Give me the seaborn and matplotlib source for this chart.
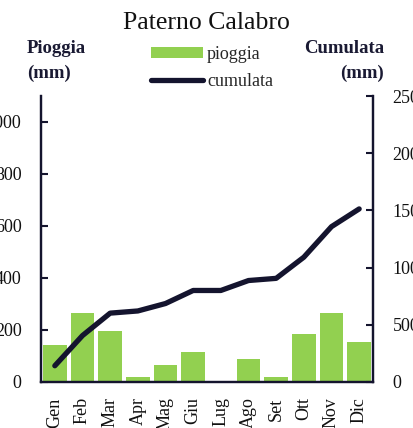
import numpy as np
import pandas as pd
import matplotlib
matplotlib.use("Agg")
import matplotlib.pyplot as plt
import seaborn as sns
from matplotlib.patches import Patch
from matplotlib.lines import Line2D

months = ["Gen", "Feb", "Mar", "Apr", "Mag", "Giu", "Lug", "Ago", "Set", "Ott", "Nov", "Dic"]
pioggia = [142, 264, 196, 19, 65, 114, 0, 87, 19, 185, 267, 155]
cumulata = [142, 406, 602, 621, 686, 800, 800, 887, 906, 1091, 1358, 1513]
left_ticks = [0, 200, 400, 600, 800, 1000]
right_ticks = [0, 500, 1000, 1500, 2000, 2500]

GREEN = "#92d050"
NAVY = "#14142e"
FONT = ["Liberation Serif", "DejaVu Serif"]

sns.set_theme(style="white")
plt.rcParams["font.family"] = FONT

df = pd.DataFrame({"mese": months, "pioggia": pioggia, "cumulata": cumulata})

fig = plt.figure(figsize=(4.13, 4.28), dpi=100)
ax = fig.add_axes([41/413, 46/428, 332/413, 286/428])
sns.barplot(data=df, x="mese", y="pioggia", color=GREEN, saturation=1, width=0.86,
            edgecolor="none", ax=ax)
ax.set_xlim(-0.5, 11.5)
ax.set_ylim(0, 1100)
ax.set_yticks(left_ticks)
ax.set_xlabel("")
ax.set_ylabel("")

ax2 = ax.twinx()
sns.lineplot(x=np.arange(len(months)), y=df["cumulata"], color=NAVY, lw=3.8,
             solid_capstyle="round", ax=ax2)
ax2.set_ylim(0, 2500)
ax2.set_yticks(right_ticks)
ax2.set_ylabel("")

for a in (ax, ax2):
    a.spines["top"].set_visible(False)
    for s in ("left", "right", "bottom"):
        a.spines[s].set_color(NAVY)
        a.spines[s].set_linewidth(1.6)
    a.grid(False)

ax.tick_params(axis="y", direction="in", length=5, width=1.5, color=NAVY, pad=14,
               labelsize=13, labelcolor="#111111")
ax.tick_params(axis="x", length=0, pad=11, labelsize=13, labelcolor="#111111")
ax2.tick_params(axis="y", direction="in", length=5, width=1.5, color=NAVY, pad=14,
                labelsize=13, labelcolor="#111111")
for lab in ax.get_xticklabels():
    lab.set_rotation(90)
    lab.set_va("top")
    lab.set_ha("center")

fig.text(0.5, 1 - 23/428, "Paterno Calabro", ha="center", va="center", fontsize=18.5,
         color="#111111")
fig.text(27/413, 1 - 61/428, "Pioggia\n(mm)", ha="left", va="center", fontsize=13.5,
         fontweight="bold", color="#1a1a33", linespacing=1.55)
fig.text(384/413, 1 - 61/428, "Cumulata\n(mm)", ha="right", va="center", fontsize=13.5,
         fontweight="bold", color="#1a1a33", linespacing=1.55, multialignment="right")

handles = [Patch(facecolor=GREEN, edgecolor="none"),
           Line2D([0], [0], color=NAVY, lw=3.8, solid_capstyle="round")]
fig.legend(handles, ["pioggia", "cumulata"], loc="center left",
           bbox_to_anchor=(151/413, 1 - 68/428),
           frameon=False, fontsize=13, handlelength=2.9, handleheight=0.5,
           handletextpad=0.2, labelspacing=0.55, borderpad=0, borderaxespad=0)

fig.savefig("out.png", dpi=100)
